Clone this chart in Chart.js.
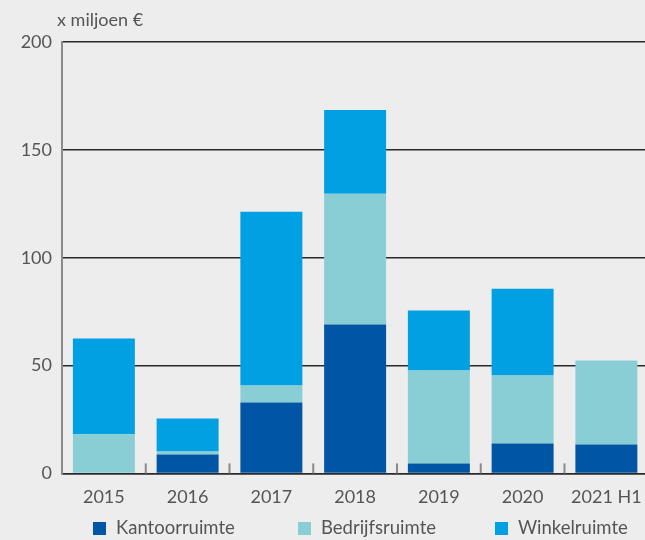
<!DOCTYPE html>
<html>
<head>
<meta charset="utf-8">
<script src="https://cdn.jsdelivr.net/npm/chart.js@4"></script>
<style>
    html, body { margin: 0; padding: 0; background: #ededed; overflow: hidden; }
    #wrap { position: relative; width: 645px; height: 540px; overflow: hidden; font-family: Lato, "Noto Sans", sans-serif; color: #555; }
    #holder { position: absolute; left: 0; top: 0; width: 655px; height: 521px; }
    #unit { position: absolute; left: 57px; top: 8px; font-size: 18px; }
    #legend { position: absolute; left: 0; top: 516px; width: 645px; height: 24px; font-size: 18.5px; }
    .item { position: absolute; top: 0; white-space: nowrap; }
    .box { display: inline-block; width: 13px; height: 13px; margin-right: 10px; vertical-align: -1px; }
</style>
</head>
<body>
<div id="wrap">
    <div id="holder"><canvas id="bedrijfsvastgoed_chart" width="655" height="521"></canvas></div>
    <div id="unit">x miljoen €</div>
    <div id="legend"></div>
</div>
<script>
const jaren = ['2015', '2016', '2017', '2018', '2019', '2020', '2021 H1']
const kantoorruimte = [0, 8.8, 32.9, 69.0, 4.6, 13.9, 13.4]
const bedrijfsruimte = [18.1, 1.4, 7.8, 60.6, 43.1, 31.5, 38.9]
const winkelruimte = [44.4, 15.3, 80.6, 38.9, 27.8, 40.2, 0]
const y_ticks = [0, 50, 100, 150, 200]

const series_names = ['Kantoorruimte', 'Bedrijfsruimte', 'Winkelruimte']
const series_colors = ['#0055a5', '#89ced5', '#00a0e2']
const legend_left = [93, 298, 495]

// kleine streepjes tussen de categorieen, binnen het grafiekvlak
const category_ticks = {
    id: 'category_ticks',
    afterDatasetsDraw(chart) {
        const xs = chart.scales.x
        const bottom = chart.chartArea.bottom
        const ctx = chart.ctx
        ctx.save()
        ctx.strokeStyle = '#8a8a8a'
        ctx.lineWidth = 2
        for (let i = 1; i < jaren.length; i++) {
            const x = (xs.getPixelForTick(i - 1) + xs.getPixelForTick(i)) / 2
            ctx.beginPath()
            ctx.moveTo(x, bottom - 10)
            ctx.lineTo(x, bottom)
            ctx.stroke()
        }
        ctx.restore()
    }
}

const datasets = [kantoorruimte, bedrijfsruimte, winkelruimte].map((values, i) => ({
    label: series_names[i],
    data: values,
    backgroundColor: series_colors[i],
    borderWidth: 0,
    barPercentage: 0.74,
    categoryPercentage: 1
}))

new Chart(document.getElementById('bedrijfsvastgoed_chart'), {
    type: 'bar',
    data: { labels: jaren, datasets: datasets },
    plugins: [category_ticks],
    options: {
        responsive: false,
        animation: false,
        layout: { padding: { top: 42, right: 5, left: 0, bottom: 0 } },
        plugins: { legend: { display: false }, tooltip: { enabled: false } },
        scales: {
            x: {
                stacked: true,
                grid: { display: false, drawTicks: false },
                border: { color: '#2a2a2a', width: 1.5 },
                ticks: { color: '#555', padding: 13, font: { family: 'Lato', size: 18 } }
            },
            y: {
                stacked: true,
                min: 0,
                max: 200,
                afterFit(scale) { scale.width = 62 },
                afterBuildTicks(scale) { scale.ticks = y_ticks.map(v => ({ value: v })) },
                grid: { color: '#2a2a2a', lineWidth: 1.5, drawTicks: false },
                border: { color: '#8a8a8a', width: 2 },
                ticks: { color: '#555', padding: 10, font: { family: 'Lato', size: 18 } }
            }
        }
    }
})

const legend = document.getElementById('legend')
series_names.forEach((name, i) => {
    const item = document.createElement('div')
    item.className = 'item'
    item.style.left = legend_left[i] + 'px'
    item.innerHTML = `<span class="box" style="background:${series_colors[i]}"></span>${name}`
    legend.appendChild(item)
})
</script>
</body>
</html>
